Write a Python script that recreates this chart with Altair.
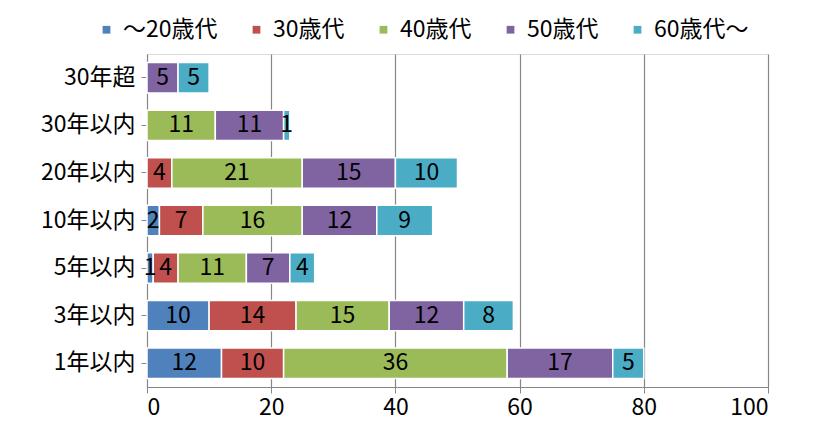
import altair as alt
import pandas as pd

categories = ["30年超", "30年以内", "20年以内", "10年以内", "5年以内", "3年以内", "1年以内"]
series = ["～20歳代", "30歳代", "40歳代", "50歳代", "60歳代～"]
colors = ["#4F81BD", "#C0504D", "#9BBB59", "#8064A2", "#4BACC6"]
v20 = [0, 0, 0, 2, 1, 10, 12]
v30 = [0, 0, 4, 7, 4, 14, 10]
v40 = [0, 11, 21, 16, 11, 15, 36]
v50 = [5, 11, 15, 12, 7, 12, 17]
v60 = [5, 1, 10, 9, 4, 8, 5]

rows = []
for si, (s, vals) in enumerate(zip(series, [v20, v30, v40, v50, v60])):
    for c, v in zip(categories, vals):
        rows.append({"cat": c, "series": s, "ord": si, "value": v})
df = pd.DataFrame(rows)

FONT = "Noto Sans CJK JP"
FS = 23

base = alt.Chart(df).transform_stack(
    stack="value", as_=["x0", "x1"], groupby=["cat"], sort=[{"field": "ord", "order": "ascending"}]
).transform_calculate(mid="(datum.x0 + datum.x1) / 2")

yenc = alt.Y("cat:N", sort=categories, title=None,
             scale=alt.Scale(paddingInner=0.36, paddingOuter=0.18),
             axis=alt.Axis(labelFontSize=FS, labelColor="#000", labelFont=FONT,
                           domainColor="#868686", tickColor="#868686", tickSize=6,
                           labelPadding=6, grid=False))

bars = base.mark_bar(stroke="white", strokeWidth=1.5).encode(
    x=alt.X("x0:Q", title=None, scale=alt.Scale(domain=[0, 100]),
            axis=alt.Axis(values=[0, 20, 40, 60, 80, 100], labelFontSize=FS, labelColor="#000",
                          labelFont=FONT, domainColor="#868686", tickColor="#868686",
                          gridColor="#868686", gridWidth=1.2, tickSize=6, labelPadding=3)),
    x2="x1:Q",
    y=yenc,
    color=alt.Color("series:N", sort=series,
                    scale=alt.Scale(domain=series, range=colors),
                    legend=alt.Legend(title=None, orient="none", direction="horizontal",
                                      legendX=-52, legendY=-36, labelFontSize=FS,
                                      labelFont=FONT, labelColor="#000", symbolType="square",
                                      symbolSize=60, symbolStrokeWidth=0, columnPadding=27,
                                      labelOffset=5)),
)

texts = base.transform_filter("datum.value > 0").mark_text(
    fontSize=FS, font=FONT, color="#000"
).encode(
    x="mid:Q",
    y=alt.Y("cat:N", sort=categories),
    text="value:Q",
)

chart = (bars + texts).properties(
    width=621, height=333,
    padding={"left": 139, "top": 46, "right": 10, "bottom": 40},
    autosize="none",
).configure_view(stroke=None).configure(background="white")

chart.save("out.html", embed_options={"renderer": "svg", "actions": False})
